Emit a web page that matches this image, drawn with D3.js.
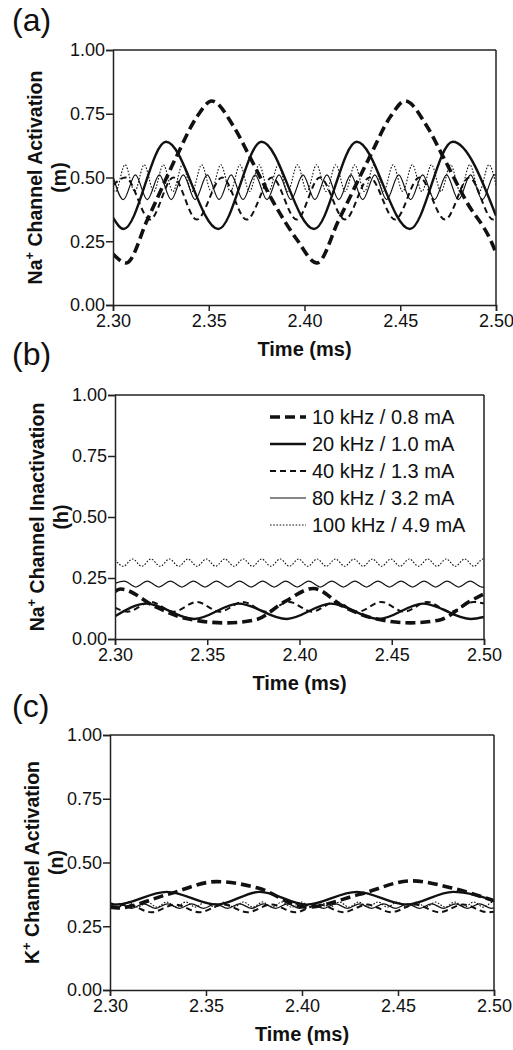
<!DOCTYPE html>
<html><head><meta charset="utf-8">
<script src="https://cdn.jsdelivr.net/npm/d3@7"></script>
<style>
body{margin:0;background:#fff;}
text{font-family:"Liberation Sans",Arial,sans-serif;fill:#111;}
</style></head>
<body><svg id="chart" width="513" height="1050"></svg>
<script>
// ---------- data (time in ms) ----------
const xTicks = [2.30, 2.35, 2.40, 2.45, 2.50];
const yTicks = [0.00, 0.25, 0.50, 0.75, 1.00];
const seriesNames = ["10 kHz / 0.8 mA", "20 kHz / 1.0 mA", "40 kHz / 1.3 mA", "80 kHz / 3.2 mA", "100 kHz / 4.9 mA"];

// Panel (a): Na+ activation m
const m10 = [[2.300,0.20],[2.307,0.165],[2.318,0.335],[2.333,0.58],[2.344,0.74],[2.3515,0.80],[2.363,0.70],[2.3715,0.58],[2.384,0.40],[2.396,0.257],[2.4065,0.165],[2.418,0.335],[2.434,0.58],[2.445,0.74],[2.4525,0.80],[2.464,0.70],[2.4725,0.58],[2.485,0.40],[2.497,0.257],[2.500,0.205]];
const m20 = [[2.300,0.343],[2.3055,0.298],[2.3277,0.64],[2.355,0.298],[2.3776,0.64],[2.405,0.298],[2.4273,0.64],[2.455,0.298],[2.4774,0.64],[2.500,0.35]];
const m40 = [[2.300,0.47],[2.3065,0.50],[2.3193,0.335],[2.3315,0.50],[2.3437,0.335],[2.357,0.50],[2.3698,0.335],[2.383,0.50],[2.3959,0.335],[2.408,0.50],[2.4211,0.335],[2.434,0.50],[2.4473,0.335],[2.460,0.50],[2.4734,0.335],[2.486,0.50],[2.4985,0.335],[2.500,0.34]];
const m80 = [[2.300,0.505],[2.3054,0.413],[2.3117,0.51],[2.3179,0.413],[2.3242,0.51],[2.3304,0.413],[2.3367,0.51],[2.3429,0.413],[2.3492,0.51],[2.3554,0.413],[2.3617,0.51],[2.3679,0.413],[2.3742,0.51],[2.3804,0.413],[2.3867,0.51],[2.3929,0.413],[2.3992,0.51],[2.4054,0.413],[2.4117,0.51],[2.4179,0.413],[2.4242,0.51],[2.4304,0.413],[2.4367,0.51],[2.4429,0.413],[2.4492,0.51],[2.4554,0.413],[2.4617,0.51],[2.4679,0.413],[2.4742,0.51],[2.4804,0.413],[2.4867,0.51],[2.4929,0.413],[2.4992,0.51],[2.500,0.51]];
const m100 = [[2.300,0.45],[2.3013,0.445],[2.3063,0.55],[2.3113,0.445],[2.3163,0.55],[2.3213,0.445],[2.3263,0.55],[2.3313,0.445],[2.3363,0.55],[2.3413,0.445],[2.3463,0.55],[2.3513,0.445],[2.3563,0.55],[2.3613,0.445],[2.3663,0.55],[2.3713,0.445],[2.3763,0.55],[2.3813,0.445],[2.3863,0.55],[2.3913,0.445],[2.3963,0.55],[2.4013,0.445],[2.4063,0.55],[2.4113,0.445],[2.4163,0.55],[2.4213,0.445],[2.4263,0.55],[2.4313,0.445],[2.4363,0.55],[2.4413,0.445],[2.4463,0.55],[2.4513,0.445],[2.4563,0.55],[2.4613,0.445],[2.4663,0.55],[2.4713,0.445],[2.4763,0.55],[2.4813,0.445],[2.4863,0.55],[2.4913,0.445],[2.4963,0.55],[2.500,0.47]];

// Panel (b): Na+ inactivation h
const h10 = [[2.300,0.195],[2.303,0.205],[2.322,0.132],[2.338,0.085],[2.360,0.066],[2.376,0.078],[2.392,0.153],[2.4075,0.207],[2.424,0.132],[2.440,0.085],[2.460,0.066],[2.476,0.078],[2.492,0.153],[2.500,0.185]];
const h20 = [[2.300,0.093],[2.317,0.145],[2.343,0.082],[2.367,0.145],[2.393,0.082],[2.417,0.145],[2.443,0.082],[2.467,0.145],[2.493,0.082],[2.500,0.09]];
const h40 = [[2.300,0.128],[2.3068,0.112],[2.3193,0.152],[2.3318,0.112],[2.3443,0.152],[2.3568,0.112],[2.3693,0.152],[2.3818,0.112],[2.3943,0.152],[2.4068,0.112],[2.4193,0.152],[2.4318,0.112],[2.4443,0.152],[2.4568,0.112],[2.4693,0.152],[2.4818,0.112],[2.4943,0.152],[2.500,0.145]];
const h80 = [[2.300,0.228],[2.305,0.237],[2.3113,0.213],[2.3175,0.237],[2.3238,0.213],[2.330,0.237],[2.3363,0.213],[2.3425,0.237],[2.3488,0.213],[2.355,0.237],[2.3613,0.213],[2.3675,0.237],[2.3738,0.213],[2.380,0.237],[2.3863,0.213],[2.3925,0.237],[2.3988,0.213],[2.405,0.237],[2.4113,0.213],[2.4175,0.237],[2.4238,0.213],[2.430,0.237],[2.4363,0.213],[2.4425,0.237],[2.4488,0.213],[2.455,0.237],[2.4613,0.213],[2.4675,0.237],[2.4738,0.213],[2.480,0.237],[2.4863,0.213],[2.4925,0.237],[2.4988,0.213],[2.500,0.214]];
const h100 = [[2.300,0.326],[2.3045,0.298],[2.3095,0.328],[2.3145,0.298],[2.3195,0.328],[2.3245,0.298],[2.3295,0.328],[2.3345,0.298],[2.3395,0.328],[2.3445,0.298],[2.3495,0.328],[2.3545,0.298],[2.3595,0.328],[2.3645,0.298],[2.3695,0.328],[2.3745,0.298],[2.3795,0.328],[2.3845,0.298],[2.3895,0.328],[2.3945,0.298],[2.3995,0.328],[2.4045,0.298],[2.4095,0.328],[2.4145,0.298],[2.4195,0.328],[2.4245,0.298],[2.4295,0.328],[2.4345,0.298],[2.4395,0.328],[2.4445,0.298],[2.4495,0.328],[2.4545,0.298],[2.4595,0.328],[2.4645,0.298],[2.4695,0.328],[2.4745,0.298],[2.4795,0.328],[2.4845,0.298],[2.4895,0.328],[2.4945,0.298],[2.4995,0.328],[2.500,0.328]];

// Panel (c): K+ activation n
const n10 = [[2.300,0.325],[2.304,0.322],[2.330,0.375],[2.3555,0.425],[2.377,0.40],[2.4025,0.325],[2.430,0.375],[2.457,0.428],[2.478,0.40],[2.500,0.35]];
const n20 = [[2.300,0.34],[2.3035,0.335],[2.3295,0.385],[2.3556,0.335],[2.378,0.385],[2.4024,0.335],[2.4285,0.385],[2.4545,0.335],[2.4787,0.385],[2.500,0.35]];
const n40 = [[2.300,0.32],[2.309,0.335],[2.3215,0.305],[2.334,0.335],[2.3465,0.305],[2.359,0.335],[2.3715,0.305],[2.384,0.335],[2.3965,0.305],[2.409,0.335],[2.4215,0.305],[2.434,0.335],[2.4465,0.305],[2.459,0.335],[2.4715,0.305],[2.484,0.335],[2.4965,0.305],[2.500,0.307]];
const n80 = [[2.300,0.33],[2.305,0.338],[2.3113,0.32],[2.3175,0.338],[2.3238,0.32],[2.330,0.338],[2.3363,0.32],[2.3425,0.338],[2.3488,0.32],[2.355,0.338],[2.3613,0.32],[2.3675,0.338],[2.3738,0.32],[2.380,0.338],[2.3863,0.32],[2.3925,0.338],[2.3988,0.32],[2.405,0.338],[2.4113,0.32],[2.4175,0.338],[2.4238,0.32],[2.430,0.338],[2.4363,0.32],[2.4425,0.338],[2.4488,0.32],[2.455,0.338],[2.4613,0.32],[2.4675,0.338],[2.4738,0.32],[2.480,0.338],[2.4863,0.32],[2.4925,0.338],[2.4988,0.32],[2.500,0.322]];
const n100 = [[2.300,0.33],[2.3045,0.325],[2.3095,0.345],[2.3145,0.325],[2.3195,0.345],[2.3245,0.325],[2.3295,0.345],[2.3345,0.325],[2.3395,0.345],[2.3445,0.325],[2.3495,0.345],[2.3545,0.325],[2.3595,0.345],[2.3645,0.325],[2.3695,0.345],[2.3745,0.325],[2.3795,0.345],[2.3845,0.325],[2.3895,0.345],[2.3945,0.325],[2.3995,0.345],[2.4045,0.325],[2.4095,0.345],[2.4145,0.325],[2.4195,0.345],[2.4245,0.325],[2.4295,0.345],[2.4345,0.325],[2.4395,0.345],[2.4445,0.325],[2.4495,0.345],[2.4545,0.325],[2.4595,0.345],[2.4645,0.325],[2.4695,0.345],[2.4745,0.325],[2.4795,0.345],[2.4845,0.325],[2.4895,0.345],[2.4945,0.325],[2.4995,0.345],[2.500,0.344]];

// ---------- styles ----------
const styles = [
  {w:3.6, dash:"10,5"},
  {w:2.4, dash:null},
  {w:2.0, dash:"6,4"},
  {w:1.2, dash:null},
  {w:1.1, dash:"1.6,1.6"}
];

const panels = [
  {label:"(a)", labelY:31, left:113, right:496, top:50, bottom:305, title:["Na","+"," Channel Activation"], sub:"(m)", data:[m10,m20,m40,m80,m100], legend:false},
  {label:"(b)", labelY:365, left:115, right:484, top:395, bottom:639, title:["Na","+"," Channel Inactivation"], sub:"(h)", data:[h10,h20,h40,h80,h100], legend:true},
  {label:"(c)", labelY:717, left:110, right:494, top:735, bottom:990, title:["K","+"," Channel Activation"], sub:"(n)", data:[n10,n20,n40,n80,n100], legend:false}
];

const svg = d3.select("#chart");
const axisColor = "#222";

panels.forEach((p, pi) => {
  const x = d3.scaleLinear().domain([2.30, 2.50]).range([p.left, p.right]);
  const y = d3.scaleLinear().domain([0, 1]).range([p.bottom, p.top]);
  const g = svg.append("g");

  g.append("text").attr("x", 12).attr("y", p.labelY).attr("font-size", 32).text(p.label);

  const cid = "clip" + pi;
  svg.append("defs").append("clipPath").attr("id", cid)
    .append("rect").attr("x", p.left).attr("y", p.top - 2).attr("width", p.right - p.left).attr("height", p.bottom - p.top + 2);

  const line = d3.line().x(d => x(d[0])).y(d => y(d[1])).curve(d3.curveMonotoneX);
  const lg = g.append("g").attr("clip-path", `url(#${cid})`);
  p.data.forEach((s, i) => {
    const st = styles[i];
    lg.append("path").datum(s).attr("d", line)
      .attr("fill", "none").attr("stroke", "#111")
      .attr("stroke-width", st.w)
      .attr("stroke-dasharray", st.dash);
  });

  g.append("line").attr("x1", p.left).attr("x2", p.right).attr("y1", p.top).attr("y2", p.top).attr("stroke", axisColor).attr("stroke-width", 1.5);
  g.append("line").attr("x1", p.right).attr("x2", p.right).attr("y1", p.top).attr("y2", p.bottom).attr("stroke", axisColor).attr("stroke-width", 1.5);

  const xa = g.append("g").attr("transform", `translate(0,${p.bottom})`)
    .call(d3.axisBottom(x).tickValues(xTicks).tickFormat(d3.format(".2f")).tickSize(6).tickPadding(3));
  const ya = g.append("g").attr("transform", `translate(${p.left},0)`)
    .call(d3.axisLeft(y).tickValues(yTicks).tickFormat(d3.format(".2f")).tickSize(7).tickPadding(1));
  [xa, ya].forEach(a => {
    a.select(".domain").attr("stroke", axisColor).attr("stroke-width", 1.5);
    a.selectAll(".tick line").attr("stroke", axisColor).attr("stroke-width", 1.5);
    a.selectAll(".tick text").attr("font-size", 18).attr("font-family", "Liberation Sans, Arial, sans-serif").attr("fill", "#111");
  });

  g.append("text").attr("x", (p.left + p.right) / 2).attr("y", p.bottom + 51)
    .attr("text-anchor", "middle").attr("font-size", 20).attr("font-weight", "bold").text("Time (ms)");

  const cy = (p.top + p.bottom) / 2;
  const t1 = g.append("text").attr("transform", `translate(${p.left - 71},${cy}) rotate(-90)`)
    .attr("text-anchor", "middle").attr("font-size", 19.5).attr("font-weight", "bold");
  t1.append("tspan").text(p.title[0]);
  t1.append("tspan").attr("dy", -8).attr("font-size", 13).text(p.title[1]);
  t1.append("tspan").attr("dy", 8).text(p.title[2]);
  g.append("text").attr("transform", `translate(${p.left - 47},${cy}) rotate(-90)`)
    .attr("text-anchor", "middle").attr("font-size", 19.5).attr("font-weight", "bold").text(p.sub);

  if (p.legend) {
    const lgd = g.append("g");
    seriesNames.forEach((name, i) => {
      const yy = 417 + i * 27;
      const st = styles[i];
      lgd.append("line").attr("x1", 270).attr("x2", 306).attr("y1", yy).attr("y2", yy)
        .attr("stroke", "#111").attr("stroke-width", st.w).attr("stroke-dasharray", st.dash);
      lgd.append("text").attr("x", 312).attr("y", yy).attr("dy", "0.36em").attr("font-size", 20).text(name);
    });
  }
});
</script></body></html>
